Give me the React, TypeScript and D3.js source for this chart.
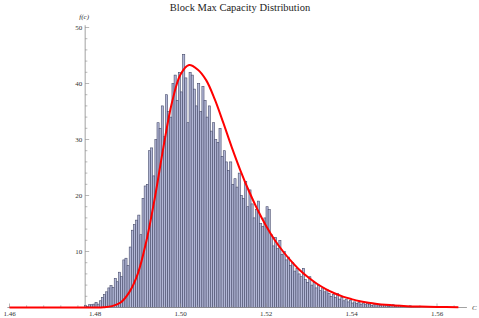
import { useEffect, useRef } from "react";
import * as d3 from "d3";

// histogram: bins of width 0.0005 starting at 1.4775
const binStart = 1.4775;
const binWidth = 0.0005;
const binHeights = [
  0.4, 0.2, 0.5, 0.5, 0.6, 0.9, 0.6, 1.2, 1.8, 2.3,
  2.8, 3.5, 3.9, 3.6, 5.2, 4.6, 6.3, 5.5, 8.5, 8.8,
  7.5, 10.8, 13.8, 14.8, 15.6, 16.5, 13, 19.5, 21.7, 22,
  28, 28.5, 23.5, 30, 33, 32, 36, 30.5, 38, 35,
  34, 40, 41.5, 37, 42, 38.5, 45.2, 41, 33, 42,
  41.5, 39, 36, 40, 35, 39.5, 37, 34, 36, 31.5,
  33, 30, 29.5, 32, 27, 28, 26, 24.5, 26, 22,
  23, 21.5, 24, 20, 19.5, 22.5, 18, 21, 18.5, 16,
  17.5, 19, 15, 14.5, 16, 18, 17.5, 13, 11, 12.5,
  10.5, 12, 9.5, 10, 8.5, 9, 7.5, 8, 6.5, 7,
  6, 5.5, 7, 5, 4.5, 5.5, 4, 4.5, 3.5, 4,
  3, 3.5, 2.8, 3.2, 2.5, 2, 2.3, 1.8, 2.5, 1.5,
  1.8, 1.2, 1.5, 1, 1.3, 0.8, 1, 0.7, 0.9, 0.6,
  0.8, 0.5, 0.7, 0.6, 0.4, 0.5, 0.6, 0.3, 0.4, 0.5,
  0.3, 0.4, 0.2, 0.3, 0.5, 0.2, 0.3, 0.4, 0.2, 0.1,
  0.2, 0.1, 0.3, 0.1, 0.1, 0.2, 0.1,
];

// fitted density, points
const fitX = [
  1.46, 1.47, 1.478, 1.48, 1.482, 1.484, 1.486, 1.488, 1.49, 1.492,
  1.494, 1.496, 1.498, 1.5, 1.502, 1.504, 1.506, 1.508, 1.51, 1.512,
  1.514, 1.516, 1.518, 1.52, 1.522, 1.524, 1.526, 1.528, 1.53, 1.532,
  1.534, 1.536, 1.538, 1.54, 1.542, 1.544, 1.546, 1.548, 1.55, 1.553,
  1.556, 1.56, 1.565,
];
const fitY = [
  0, 0, 0, 0.01, 0.05, 0.25, 0.9, 2.7, 6.0, 11.8,
  19.6, 28.6, 36.6, 41.6, 43.3, 42.5, 40.6, 37.2, 33.0, 28.6,
  24.5, 20.8, 17.5, 14.6, 12.1, 10, 8.2, 6.6, 5.3, 4.2,
  3.3, 2.55, 1.95, 1.5, 1.12, 0.84, 0.63, 0.47, 0.35, 0.23,
  0.16, 0.09, 0.05,
];

const xTicks = [1.46, 1.48, 1.5, 1.52, 1.54, 1.56];
const yTicks = [10, 20, 30, 40, 50];
const yAxisAt = 1.4777;

export default function App() {
  const svgRef = useRef<SVGSVGElement>(null);

  useEffect(() => {
    if (!svgRef.current) return;
    const svg = d3.select(svgRef.current);
    svg.selectAll("*").remove();

    const x = d3.scaleLinear().domain([1.46, 1.56]).range([9.5, 437]);
    const y = d3.scaleLinear().domain([0, 50]).range([307.5, 27.5]);
    const font = "'Liberation Serif', 'Times New Roman', serif";

    // ── bars ──
    svg.append("g")
      .selectAll("rect")
      .data(binHeights)
      .join("rect")
      .attr("x", (_, i) => x(binStart + i * binWidth))
      .attr("width", x(binWidth) - x(0))
      .attr("y", (d) => y(d))
      .attr("height", (d) => y(0) - y(d))
      .attr("fill", "#b2b7d6")
      .attr("stroke", "#474b6a")
      .attr("stroke-width", 0.6);

    // ── axes ──
    const axisColor = "#8a8a8a";
    const x0 = x(yAxisAt);

    svg.append("line")
      .attr("x1", x(1.4595)).attr("x2", x(1.567))
      .attr("y1", y(0)).attr("y2", y(0))
      .attr("stroke", axisColor).attr("stroke-width", 0.8);
    svg.append("line")
      .attr("x1", x0).attr("x2", x0)
      .attr("y1", y(0)).attr("y2", y(50.4))
      .attr("stroke", axisColor).attr("stroke-width", 0.8);

    // x ticks, major + minor pointing up
    const xMinor = d3.range(1.46, 1.5641, 0.004);
    svg.append("g").selectAll("line")
      .data(xMinor)
      .join("line")
      .attr("x1", (d) => x(d)).attr("x2", (d) => x(d))
      .attr("y1", y(0))
      .attr("y2", (d) => y(0) - (xTicks.some((t) => Math.abs(t - d) < 1e-6) ? 4 : 2.2))
      .attr("stroke", axisColor).attr("stroke-width", 0.6);

    svg.append("g").selectAll("text")
      .data(xTicks)
      .join("text")
      .attr("x", (d) => x(d))
      .attr("y", y(0) + 8.5)
      .attr("text-anchor", "middle")
      .attr("font-family", font)
      .attr("font-size", 7)
      .attr("fill", "#333")
      .text((d) => d.toFixed(2));

    // y ticks, major + minor pointing right
    const yMinor = d3.range(2, 50.1, 2);
    svg.append("g").selectAll("line")
      .data(yMinor)
      .join("line")
      .attr("x1", x0)
      .attr("x2", (d) => x0 + (d % 10 === 0 ? 4 : 2.2))
      .attr("y1", (d) => y(d)).attr("y2", (d) => y(d))
      .attr("stroke", axisColor).attr("stroke-width", 0.6);

    svg.append("g").selectAll("text")
      .data(yTicks)
      .join("text")
      .attr("x", x0 - 3)
      .attr("y", (d) => y(d) + 2.5)
      .attr("text-anchor", "end")
      .attr("font-family", font)
      .attr("font-size", 7)
      .attr("fill", "#333")
      .text((d) => d);

    // ── fitted curve ──
    const line = d3.line<number>()
      .x((_, i) => x(fitX[i]))
      .y((d) => y(d))
      .curve(d3.curveCatmullRom.alpha(0.5));
    svg.append("path")
      .datum(fitY)
      .attr("fill", "none")
      .attr("stroke", "#ff0000")
      .attr("stroke-width", 2)
      .attr("d", line);

    // ── labels ──
    svg.append("text")
      .attr("x", 240).attr("y", 11)
      .attr("text-anchor", "middle")
      .attr("font-family", font)
      .attr("font-size", 10.5)
      .attr("fill", "#222")
      .text("Block Max Capacity Distribution");

    svg.append("text")
      .attr("x", x0 - 1).attr("y", 19)
      .attr("text-anchor", "middle")
      .attr("font-family", font)
      .attr("font-style", "italic")
      .attr("font-size", 7)
      .attr("fill", "#333")
      .text("f(c)");

    svg.append("text")
      .attr("x", x(1.567) + 5).attr("y", y(0) + 2.5)
      .attr("font-family", font)
      .attr("font-style", "italic")
      .attr("font-size", 7)
      .attr("fill", "#333")
      .text("C");
  }, []);

  return (
    <div style={{ position: "absolute", left: 0, top: 0 }}>
      <svg ref={svgRef} width={479} height={318} style={{ display: "block", background: "#fff" }} />
    </div>
  );
}
